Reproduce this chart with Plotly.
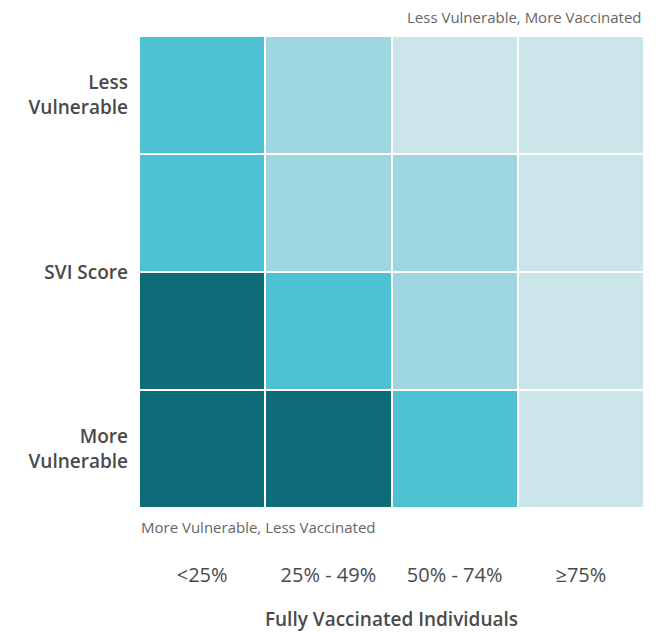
import plotly.graph_objects as go

vacc_bins = ["<25%", "25% - 49%", "50% - 74%", "≥75%"]
svi_tick_vals = [3, 1.5, 0]
svi_tick_text = ["Less<br>Vulnerable", "SVI Score", "More<br>Vulnerable"]
# levels: 0 = palest ... 3 = darkest; rows listed top (Less Vulnerable) to bottom (More Vulnerable)
levels_top_to_bottom = [
    [2, 1, 0, 0],
    [2, 1, 1, 0],
    [3, 2, 1, 0],
    [3, 3, 2, 0],
]
level_colors = ["#cce5ea", "#9dd6df", "#4dc0d2", "#0e6b78"]

z = levels_top_to_bottom[::-1]
colorscale = []
n = len(level_colors)
for i, c in enumerate(level_colors):
    colorscale.append([i / n, c])
    colorscale.append([(i + 1) / n, c])

fig = go.Figure(go.Heatmap(
    z=z,
    x=list(range(len(vacc_bins))),
    y=list(range(len(z))),
    zmin=-0.5, zmax=3.5,
    colorscale=colorscale,
    showscale=False,
    xgap=2, ygap=2,
    hoverinfo="skip",
))

font_main = dict(family="Open Sans", size=19, color="#4a4a4a", weight=600)
fig.update_layout(
    width=653, height=624,
    margin=dict(l=131, r=17, t=28, b=124),
    paper_bgcolor="white", plot_bgcolor="white",
    xaxis=dict(
        range=[-0.5, 3.5], tickvals=list(range(4)), ticktext=vacc_bins,
        showgrid=False, zeroline=False, showline=False, ticks="",
        tickfont=dict(family="Open Sans", size=20, color="#4a4a4a"),
        ticklabelstandoff=53, automargin=False,
        title=dict(text="Fully Vaccinated Individuals", font=font_main, standoff=40),
        fixedrange=True,
    ),
    yaxis=dict(
        range=[-0.5, 3.5], tickvals=svi_tick_vals, ticktext=svi_tick_text,
        showgrid=False, zeroline=False, showline=False, ticks="",
        tickfont=font_main, ticklabelstandoff=10, automargin=False,
        fixedrange=True,
    ),
    annotations=[
        dict(text="Less Vulnerable, More Vaccinated", xref="paper", yref="paper",
             x=1, y=1, xanchor="right", yanchor="bottom", yshift=7, showarrow=False,
             font=dict(family="Open Sans", size=15, color="#666666")),
        dict(text="More Vulnerable, Less Vaccinated", xref="paper", yref="paper",
             x=0, y=0, xanchor="left", yanchor="top", yshift=-7, showarrow=False,
             font=dict(family="Open Sans", size=15, color="#666666")),
    ],
)

fig.write_html("out.html")
